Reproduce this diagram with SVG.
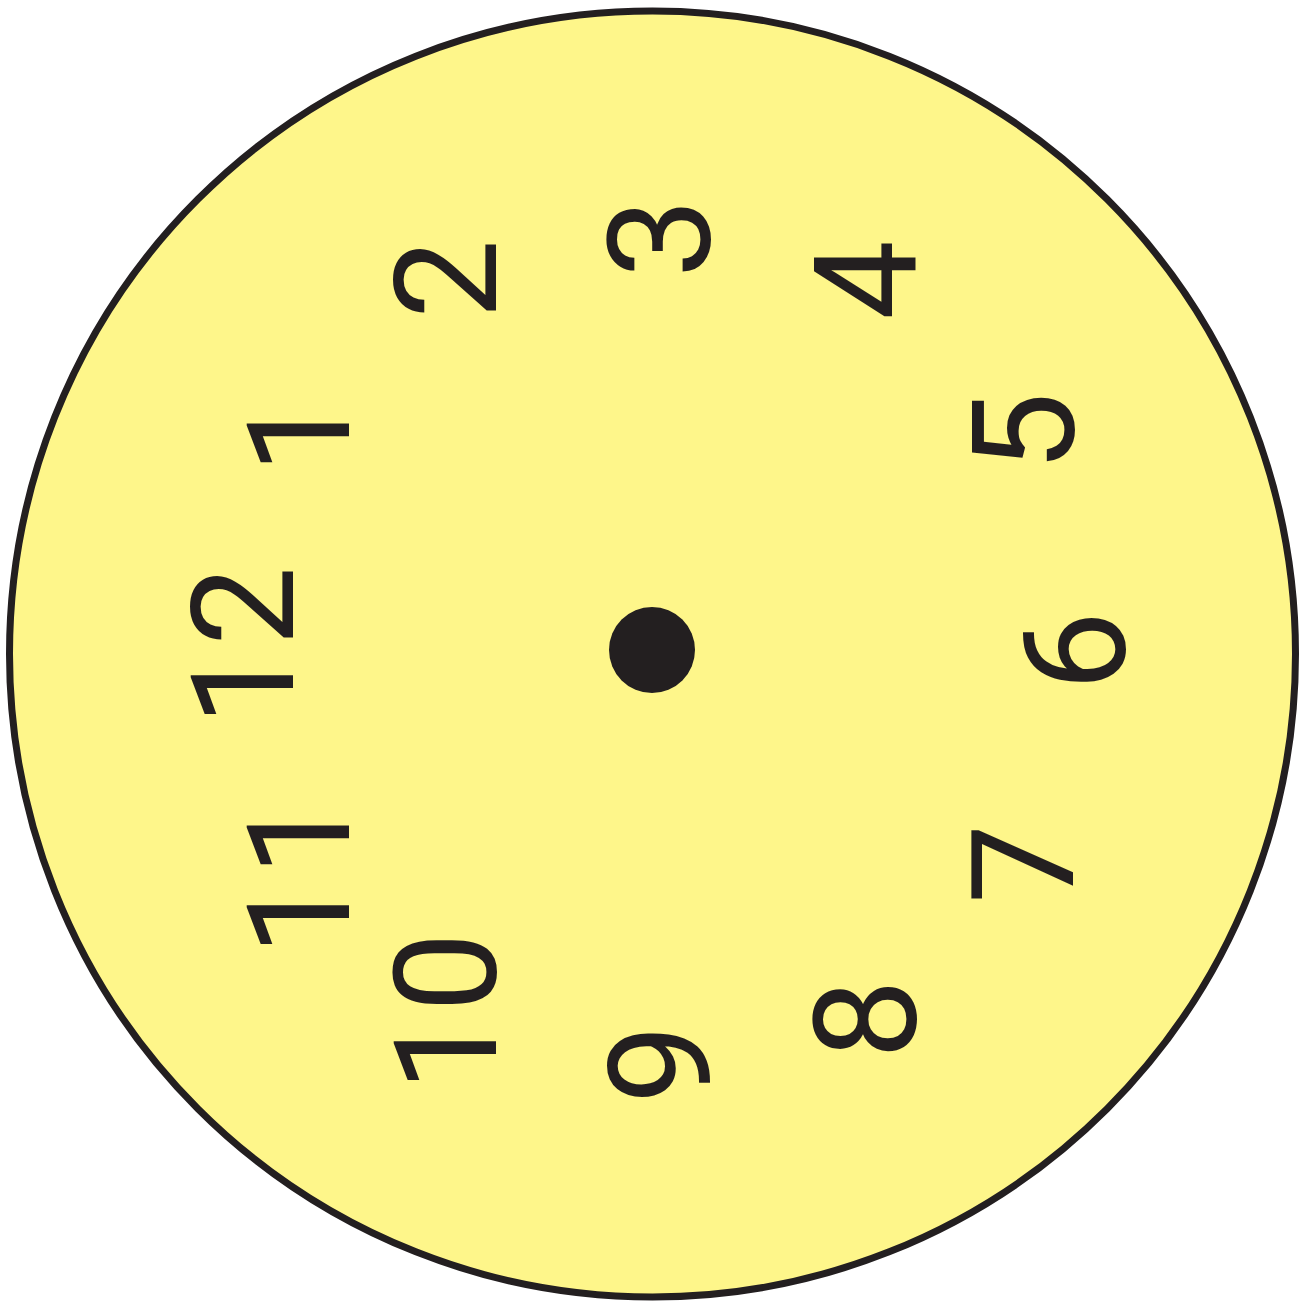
<svg xmlns="http://www.w3.org/2000/svg" width="1316" height="1304" viewBox="0 0 1316 1304">
<style>
.n{font-family:Roboto,"Open Sans",sans-serif;font-size:142px;fill:#231f20;text-anchor:middle}
</style>
<rect width="1316" height="1304" fill="#ffffff"/>
<g id="face">
<circle cx="652.5" cy="654" r="643" fill="#fef68a" stroke="#231f20" stroke-width="7"/>
<circle cx="652" cy="650" r="43" fill="#231f20"/>
</g>
<g id="n12" transform="translate(243,646) rotate(-90)"><text class="n" x="0" y="50">12</text></g>
<g id="n1" transform="translate(299,434) rotate(-90)"><text class="n" x="0" y="50">1</text></g>
<g id="n2" transform="translate(446,279) rotate(-90)"><text class="n" x="0" y="50">2</text></g>
<g id="n3" transform="translate(660,238) rotate(-90)"><text class="n" x="0" y="50">3</text></g>
<g id="n4" transform="translate(866,280) rotate(-90)"><text class="n" x="0" y="50">4</text></g>
<g id="n5" transform="translate(1024,432) rotate(-90)"><text class="n" x="0" y="50">5</text></g>
<g id="n6" transform="translate(1075,651) rotate(-90)"><text class="n" x="0" y="50">6</text></g>
<g id="n7" transform="translate(1023,864) rotate(-90)"><text class="n" x="0" y="50">7</text></g>
<g id="n8" transform="translate(866,1019) rotate(-90)"><text class="n" x="0" y="50">8</text></g>
<g id="n9" transform="translate(660,1064) rotate(-90)"><text class="n" x="0" y="50">9</text></g>
<g id="n10" transform="translate(446,1012) rotate(-90)"><text class="n" x="0" y="50">10</text></g>
<g id="n11" transform="translate(299,876) rotate(-90)"><text class="n" x="0" y="50">11</text></g>
<g id="connectors"/>
</svg>
